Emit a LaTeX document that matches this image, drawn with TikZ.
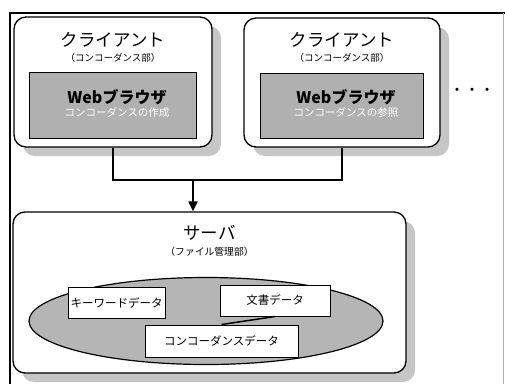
\documentclass[tikz,border=0pt]{standalone}
\usepackage{fontspec}
\setmainfont{Noto Sans CJK JP}
\usetikzlibrary{positioning,shapes.geometric,shadows,arrows.meta}
\tikzset{
  unit box/.style={draw,line width=1.3pt,rounded corners=12pt,fill=white,inner sep=0pt,
    drop shadow={shadow xshift=9pt,shadow yshift=-9pt,fill=gray!45,opacity=1}},
  browser box/.style={draw,line width=1pt,fill=gray!62,inner sep=0pt},
  data box/.style={draw,line width=1pt,fill=white,inner sep=0pt,font=\fontsize{11.5}{11.5}\selectfont},
  title text/.style={font=\fontsize{17.5}{17.5}\selectfont,inner sep=0pt},
  sub text/.style={font=\fontsize{9.5}{9.5}\selectfont,inner sep=0pt},
  link/.style={line width=2pt},
}
\begin{document}
\begin{tikzpicture}[x=1pt,y=-1pt]
  \useasboundingbox (0,0) rectangle (505,384);
  % frame
  \draw[line width=2.5pt] (10,384) -- (10,13) -- (505,13);
  \draw[gray!60,line width=0.5pt] (503,13) -- (503,384);

  % clients
  \node[unit box,minimum width=198pt,minimum height=130pt] (c1) at (113,82) {};
  \node[unit box,minimum width=196pt,minimum height=129pt] (c2) at (342,82.5) {};
  \node[title text] (c1t) at (113,40) {クライアント};
  \node[sub text] (c1s) [below=6pt of c1t] {（コンコーダンス部）};
  \node[title text] (c2t) at (342,40) {クライアント};
  \node[sub text] (c2s) [below=6pt of c2t] {（コンコーダンス部）};

  \node[browser box,minimum width=167pt,minimum height=66pt] (b1) at (112.5,105) {};
  \node[browser box,minimum width=163pt,minimum height=65pt] (b2) at (341.5,105.5) {};
  \node[font=\fontsize{16}{16}\selectfont\bfseries,inner sep=0pt] (b1t) at (117,97) {Webブラウザ};
  \node[font=\fontsize{10.5}{10.5}\selectfont,text=white,inner sep=0pt] (b1s) [below=3pt of b1t] {コンコーダンスの作成};
  \node[font=\fontsize{16}{16}\selectfont\bfseries,inner sep=0pt] (b2t) at (346,97) {Webブラウザ};
  \node[font=\fontsize{10.5}{10.5}\selectfont,text=white,inner sep=0pt] (b2s) [below=3pt of b2t] {コンコーダンスの参照};

  \node[font=\fontsize{15}{15}\selectfont,inner sep=0pt] (more) at (472,92) {・・・};

  % server
  \node[unit box,minimum width=393pt,minimum height=161pt] (srv) at (209.5,292.5) {};
  \node[title text] (srvt) at (209.5,233) {サーバ};
  \node[sub text,font=\fontsize{9.8}{9.8}\selectfont] (srvs) [below=6pt of srvt] {（ファイル管理部）};
  \node[ellipse,draw,line width=1.2pt,fill=gray!58,minimum width=354pt,minimum height=87pt] (store) at (206,321) {};
  \node[data box,minimum width=97pt,minimum height=31pt] (kw) at (116.5,302.5) {キーワードデータ};
  \node[data box,minimum width=110pt,minimum height=31pt] (doc) at (275,300.5) {文書データ};
  \node[data box,minimum width=153pt,minimum height=32pt] (conc) at (221.5,341) {コンコーダンスデータ};
  \draw[line width=1.5pt] (conc.north) -- (doc.south);

  % connectors
  \coordinate (join) at (193,180);
  \draw[link] (c1.south) |- (join) -| (c2.south);
  \draw[link,-{Triangle[length=10pt,width=9pt]}] (join) -- (join |- srv.north);
\end{tikzpicture}
\end{document}
